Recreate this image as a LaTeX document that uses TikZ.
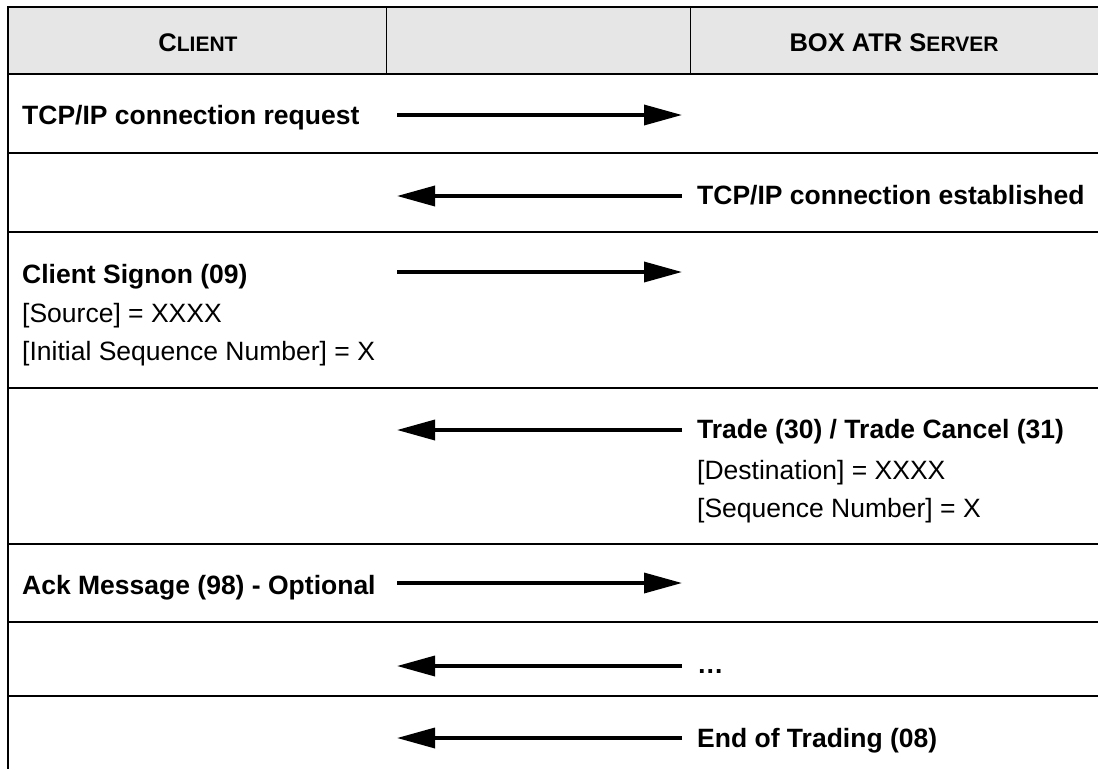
\documentclass[tikz,border=0pt]{standalone}
\usepackage{fontspec}
\setmainfont{Liberation Sans}
\usetikzlibrary{arrows.meta}
\definecolor{hdrgray}{HTML}{E6E6E6}
\newcommand{\bigf}{\fontsize{26.5}{31}\selectfont}
\newcommand{\hdrf}{\fontsize{25.5}{30}\selectfont}
\newcommand{\smallcapf}{\fontsize{21}{24}\selectfont}
\begin{document}
\begin{tikzpicture}[x=1pt,y=-1pt,
  lbl/.style={font=\bigf\bfseries, inner sep=0pt, anchor=base west},
  sub/.style={font=\bigf, inner sep=0pt, anchor=base west},
  hdr/.style={font=\hdrf\bfseries, inner sep=0pt, anchor=base},
  msg/.style={line width=3.5pt, -{Triangle[length=38pt,width=20pt]}},
  rowline/.style={line width=1.3pt},
  frame/.style={line width=2.6pt},
  coldiv/.style={line width=1pt}]
\useasboundingbox (0,0) rectangle (1098,769);
% header
\fill[hdrgray] (8,7) rectangle (1098,74);
\draw[coldiv] (386,7) -- (386,74);
\draw[coldiv] (690,7) -- (690,74);
\draw[frame] (1098,7) -- (8,7) -- (8,769);
\draw[frame] (8,74) -- (1098,74);
\node[hdr] (hclient) at (198,51) {C{\smallcapf LIENT}};
\node[hdr] (hserver) at (894,51) {BOX ATR S{\smallcapf ERVER}};
% row lines
\foreach \yy in {153,232,388,544,622,696}
  \draw[rowline] (8,\yy) -- (1098,\yy);
% texts
\node[lbl] (t1) at (22,124) {TCP/IP connection request};
\node[lbl] (t2) at (697,204) {TCP/IP connection established};
\node[lbl] (t3) at (22,283) {Client Signon (09)};
\node[sub] (t3a) at (22,322) {[Source] = XXXX};
\node[sub] (t3b) at (22,360) {[Initial Sequence Number] = X};
\node[lbl] (t4) at (697,438) {Trade (30) / Trade Cancel (31)};
\node[sub] (t4a) at (697,479) {[Destination] = XXXX};
\node[sub] (t4b) at (697,517) {[Sequence Number] = X};
\node[lbl] (t5) at (22,594) {Ack Message (98) - Optional};
\node[lbl] (t6) at (697,673) {…};
\node[lbl] (t7) at (697,747) {End of Trading (08)};
% arrow ends
\foreach \n/\yy in {1/115,2/196,3/272,4/430,5/583,6/666,7/738}{
  \coordinate (L\n) at (397,\yy);
  \coordinate (R\n) at (682,\yy);
}
\draw[msg] (L1) -- (R1);
\draw[msg] (R2) -- (L2);
\draw[msg] (L3) -- (R3);
\draw[msg] (R4) -- (L4);
\draw[msg] (L5) -- (R5);
\draw[msg] (R6) -- (L6);
\draw[msg] (R7) -- (L7);
\end{tikzpicture}
\end{document}
